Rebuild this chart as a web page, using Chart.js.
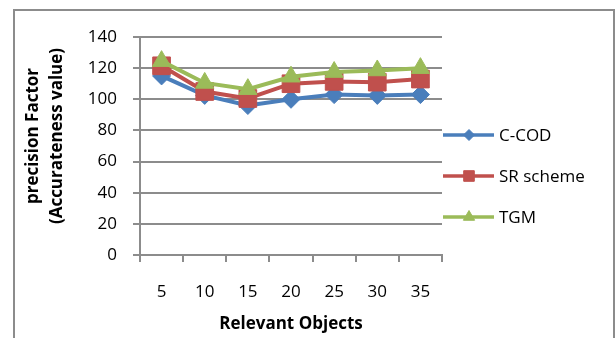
<!DOCTYPE html>
<html>
<head>
<meta charset="utf-8">
<title>Relevant Objects</title>
<script src="https://cdn.jsdelivr.net/npm/chart.js"></script>
<style>
body { margin: 0; background: #fff; }
.wrap { position: relative; width: 616px; height: 338px; overflow: hidden; }
.frame {
  position: absolute; left: 13px; top: 9px; width: 602px; height: 400px;
  box-sizing: border-box; border: 2px solid #8c8c8c;
}
canvas { position: absolute; left: 0; top: 0; }
</style>
</head>
<body>
<div class="wrap">
  <div class="frame"></div>
  <canvas id="c" width="616" height="338"></canvas>
</div>

<script>
// valeurs
const categories = ['5', '10', '15', '20', '25', '30', '35'];
const ccod = [115, 102.5, 96, 100, 103, 102.5, 103];
const srScheme = [121.5, 105, 100.5, 110, 111.5, 111, 113];
const tgm = [124.5, 110.5, 106.5, 114.5, 117.5, 118.5, 120];
const seriesNames = ['C-COD', 'SR scheme', 'TGM'];
const yTicks = [0, 20, 40, 60, 80, 100, 120, 140];

const colors = ['#4a7ebb', '#c0504d', '#9bbb59'];
const font = "'Open Sans', sans-serif";

// légende à droite : ligne + marqueur
const legendPlugin = {
  id: 'sideLegend',
  afterDraw(chart) {
    const ctx = chart.ctx;
    ctx.save();
    chart.data.datasets.forEach((ds, i) => {
      const y = 135 + i * 41;
      ctx.strokeStyle = ds.borderColor;
      ctx.lineWidth = 3.5;
      ctx.beginPath();
      ctx.moveTo(443, y);
      ctx.lineTo(494, y);
      ctx.stroke();
      ctx.fillStyle = ds.borderColor;
      ctx.lineWidth = 1;
      Chart.helpers.drawPoint(ctx, {
        pointStyle: ds.pointStyle,
        radius: ds.legendRadius,
        borderWidth: 1
      }, 469, y);
      ctx.fillStyle = '#000';
      ctx.font = '17px ' + font;
      ctx.textBaseline = 'middle';
      ctx.textAlign = 'left';
      ctx.fillText(ds.label, 499, y + 1);
    });
    ctx.restore();
  }
};

// titre de l'axe Y sur deux lignes
const yTitlePlugin = {
  id: 'yTitle',
  afterDraw(chart) {
    const ctx = chart.ctx;
    ctx.save();
    ctx.fillStyle = '#000';
    ctx.font = 'bold 17px ' + font;
    ctx.textAlign = 'center';
    ctx.textBaseline = 'middle';
    [['precision Factor', 33], ['(Accurateness value)', 57]].forEach(([t, x]) => {
      ctx.save();
      ctx.translate(x, 136);
      ctx.rotate(-Math.PI / 2);
      ctx.fillText(t, 0, 0);
      ctx.restore();
    });
    ctx.restore();
  }
};

const data = [ccod, srScheme, tgm];
const styles = [
  { pointStyle: 'rectRot', radius: 9, legendRadius: 5.5 },
  { pointStyle: 'rect', radius: 12.5, legendRadius: 7.5 },
  { pointStyle: 'triangle', radius: 10.5, legendRadius: 6.5 }
];

new Chart(document.getElementById('c'), {
  type: 'line',
  data: {
    labels: categories,
    datasets: seriesNames.map((name, i) => ({
      label: name,
      data: data[i],
      borderColor: colors[i],
      backgroundColor: colors[i],
      borderWidth: 4,
      pointStyle: styles[i].pointStyle,
      pointRadius: styles[i].radius,
      pointBorderWidth: 1,
      legendRadius: styles[i].legendRadius,
      tension: 0,
      order: 2 - i
    }))
  },
  options: {
    responsive: false,
    animation: false,
    layout: { padding: { left: 0, top: 37, right: 174, bottom: 0 } },
    plugins: {
      legend: { display: false },
      tooltip: { enabled: false }
    },
    scales: {
      x: {
        offset: true,
        afterFit(scale) { scale.height = 83; },
        grid: { offset: true, drawOnChartArea: false, tickLength: 7, color: '#8c8c8c', lineWidth: 2 },
        border: { color: '#8c8c8c', width: 2 },
        ticks: { color: '#000', font: { family: font, size: 17 }, padding: 20 },
        title: {
          display: true,
          text: 'Relevant Objects',
          color: '#000',
          font: { family: font, size: 17, weight: 'bold' },
          padding: { top: 0, bottom: 4 }
        }
      },
      y: {
        min: 0,
        max: 140,
        afterFit(scale) { scale.width = 140; },
        afterBuildTicks(scale) { scale.ticks = yTicks.map(v => ({ value: v })); },
        grid: { tickLength: 7, color: '#8c8c8c', lineWidth: 2 },
        border: { color: '#8c8c8c', width: 2 },
        ticks: { color: '#000', font: { family: font, size: 17 }, padding: 16 }
      }
    }
  },
  plugins: [legendPlugin, yTitlePlugin]
});
</script>
</body>
</html>
